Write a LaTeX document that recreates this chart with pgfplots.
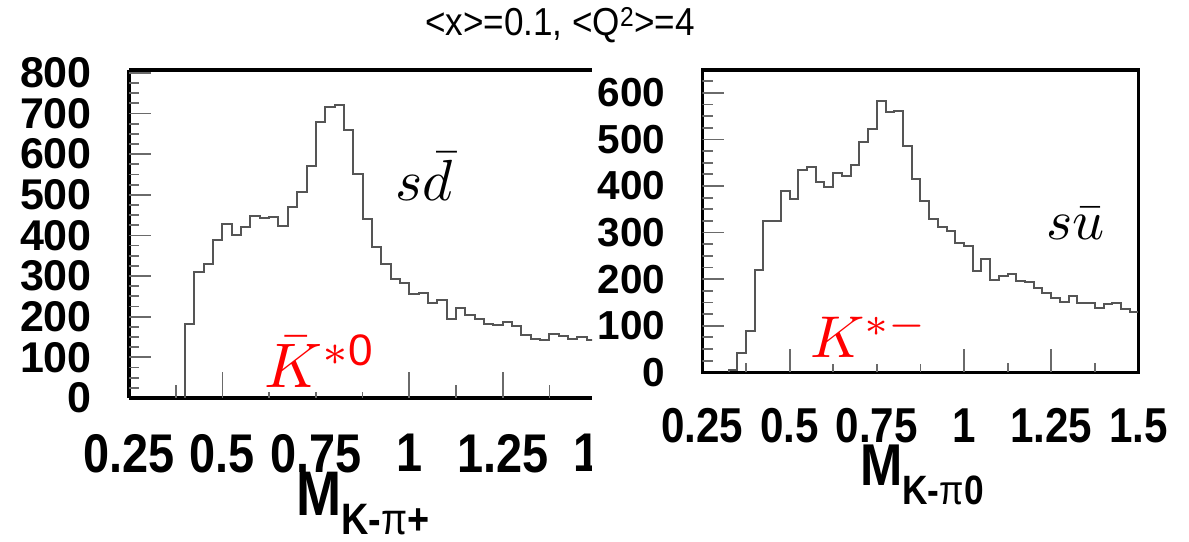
\documentclass[border=0pt]{standalone}
\usepackage{fontspec}
\usepackage{graphicx}
\usepackage{amsmath}
\usepackage{pgfplots}
\pgfplotsset{compat=1.18}
\setmainfont{Liberation Sans}
\newfontfamily\lsans{Liberation Sans}
\newfontfamily\lsansn[FakeStretch=0.86]{Liberation Sans}
\newfontfamily\lsanst[FakeStretch=0.9]{Liberation Sans}
\definecolor{histgray}{HTML}{555555}
\definecolor{tickgray}{HTML}{6A6A6A}

% ROOT-like frame shared by both panels
\pgfplotsset{
  rootframe/.style={
    scale only axis,
    anchor=south west,
    xmin=0.25, ymin=0,
    axis line style={line width=3.2pt, black},
    tick style={draw=none},
    tick pos=left,
    xtick={0.25,0.5,0.75,1,1.25,1.5},
    xticklabels={0.25,0.5,0.75,1,1.25,1.5},
    xticklabel style={anchor=north, inner sep=0pt, yshift=-36pt},
    yticklabel style={anchor=east, inner sep=0pt, xshift=-37pt},
  },
  histo/.style={const plot mark left, line width=2pt, histgray, no marks},
  xtk/.style={ycomb, no marks, line width=1.8pt, tickgray},
  ytk/.style={xcomb, no marks, line width=1.8pt, tickgray},
}

\begin{document}
\begin{tikzpicture}
\path[use as bounding box] (0pt,0pt) rectangle (1189pt,541pt);

% left panel: K- pi+
\begin{axis}[rootframe,
  at={(129pt,143pt)}, width=463pt, height=328pt,
  xmax=1.489, ymax=807,
  axis x line*=box, axis y line*=left,
  ytick={0,100,200,300,400,500,600,700,800},
  yticklabels={0,100,200,300,400,500,600,700,800},
  xticklabel style={font=\lsansn\bfseries\fontsize{54.5}{54.5}\selectfont},
  yticklabel style={font=\lsans\bfseries\fontsize{43}{43}\selectfont},
]
% tick marks (ROOT style)
\addplot[xtk] coordinates {
  (0.375,32) (0.5,64) (0.625,15) (0.75,15) (0.875,15) (1,64) (1.125,32) (1.25,64) (1.375,32)
};
\addplot[ytk] coordinates {
  (0.309,100) (0.309,200) (0.309,300) (0.309,400) (0.309,500) (0.309,600) (0.309,700) (0.309,800)
};
\addplot[ytk] coordinates {
  (0.277,25) (0.277,50) (0.277,75) (0.277,125) (0.277,150) (0.277,175)
  (0.277,225) (0.277,250) (0.277,275) (0.277,325) (0.277,350) (0.277,375)
  (0.277,425) (0.277,450) (0.277,475) (0.277,525) (0.277,550) (0.277,575)
  (0.277,625) (0.277,650) (0.277,675) (0.277,725) (0.277,750) (0.277,775)
};
\addplot[histo] coordinates {
  (0.4,0) (0.4,181) (0.425,310) (0.45,330) (0.475,388) (0.5,429) (0.525,400)
  (0.55,421) (0.575,447) (0.6,443) (0.625,445) (0.65,423) (0.675,470) (0.7,507)
  (0.725,572) (0.75,679) (0.775,716) (0.8,722) (0.825,660) (0.85,550) (0.875,441)
  (0.9,372) (0.925,329) (0.95,292) (0.975,282) (1.0,257) (1.025,258) (1.05,234)
  (1.075,242) (1.1,195) (1.125,221) (1.15,203) (1.175,194) (1.2,182) (1.225,180)
  (1.25,188) (1.275,176) (1.3,156) (1.325,146) (1.35,142) (1.375,157) (1.4,152)
  (1.425,144) (1.45,149) (1.475,142) (1.5,142)
};
\coordinate (lft15) at (axis cs:1.5,0);
\end{axis}

% truncated last tick label of the left panel
\begin{scope}
\clip (0pt,0pt) rectangle (591pt,541pt);
\node[anchor=north, inner sep=0pt, yshift=-36pt, xshift=10pt,
  font=\lsansn\bfseries\fontsize{54.5}{54.5}\selectfont] at (lft15) {1.5};
\end{scope}

% right panel: K- pi0
\begin{axis}[rootframe,
  at={(702.4pt,168.7pt)}, width=436pt, height=302.3pt,
  xmax=1.5, ymax=649,
  ytick={0,100,200,300,400,500,600},
  yticklabels={0,100,200,300,400,500,600},
  xticklabel style={font=\lsansn\bfseries\fontsize{49}{49}\selectfont},
  yticklabel style={font=\lsans\bfseries\fontsize{40.5}{40.5}\selectfont},
]
\addplot[xtk] coordinates {
  (0.375,21) (0.5,49) (0.625,17) (0.75,17) (0.875,17) (1,49) (1.125,21) (1.25,49) (1.375,21)
};
\addplot[ytk] coordinates {
  (0.313,100) (0.313,200) (0.313,300) (0.313,400) (0.313,500) (0.313,600)
};
\addplot[ytk] coordinates {
  (0.279,25) (0.279,50) (0.279,75) (0.279,125) (0.279,150) (0.279,175)
  (0.279,225) (0.279,250) (0.279,275) (0.279,325) (0.279,350) (0.279,375)
  (0.279,425) (0.279,450) (0.279,475) (0.279,525) (0.279,550) (0.279,575)
  (0.279,625)
};
\addplot[histo] coordinates {
  (0.325,0) (0.325,5) (0.35,41) (0.375,89) (0.4,220) (0.425,325) (0.45,325)
  (0.475,390) (0.5,373) (0.525,434) (0.55,440) (0.575,408) (0.6,398) (0.625,427)
  (0.65,422) (0.675,446) (0.7,495) (0.725,522) (0.75,583) (0.775,558) (0.8,560)
  (0.825,486) (0.85,415) (0.875,368) (0.9,329) (0.925,313) (0.95,304) (0.975,277)
  (1.0,272) (1.025,218) (1.05,243) (1.075,199) (1.1,207) (1.125,212) (1.15,197)
  (1.175,193) (1.2,180) (1.225,170) (1.25,159) (1.275,151) (1.3,164) (1.325,149)
  (1.35,149) (1.375,137) (1.4,146) (1.425,149) (1.45,136) (1.475,130) (1.5,130)
};
\end{axis}

% title
\node[inner sep=0pt] at (560pt,516pt)
  {\lsanst\fontsize{39}{39}\selectfont <x>=0.1, <Q\textsuperscript{2}>=4};

% axis titles
\node[anchor=base west, inner sep=0pt] at (296pt,25pt)
  {\lsansn\bfseries\fontsize{63}{63}\selectfont M\raisebox{-19pt}{\fontsize{44}{44}\selectfont K-{\mdseries π}+}};
\node[anchor=base west, inner sep=0pt] at (860pt,56pt)
  {\lsansn\bfseries\fontsize{59}{59}\selectfont M\raisebox{-20pt}{\fontsize{41}{41}\selectfont K-{\mdseries π}0}};

% annotations
\node[anchor=base west, inner sep=0pt] at (395pt,340.3pt) {\scalebox{5.8}{$s\bar{d}$}};
\node[anchor=base west, inner sep=0pt] at (1046pt,301pt) {\scalebox{5.6}{$s\bar{u}$}};
\node[anchor=base west, inner sep=0pt, text=red] at (264pt,153pt)
  {\scalebox{6.3}{$\bar{K}^{*\text{\lsans 0}}$}};
\node[anchor=base west, inner sep=0pt, text=red] at (810pt,183pt)
  {\scalebox{5.9}{$K^{*-}$}};
\end{tikzpicture}
\end{document}
